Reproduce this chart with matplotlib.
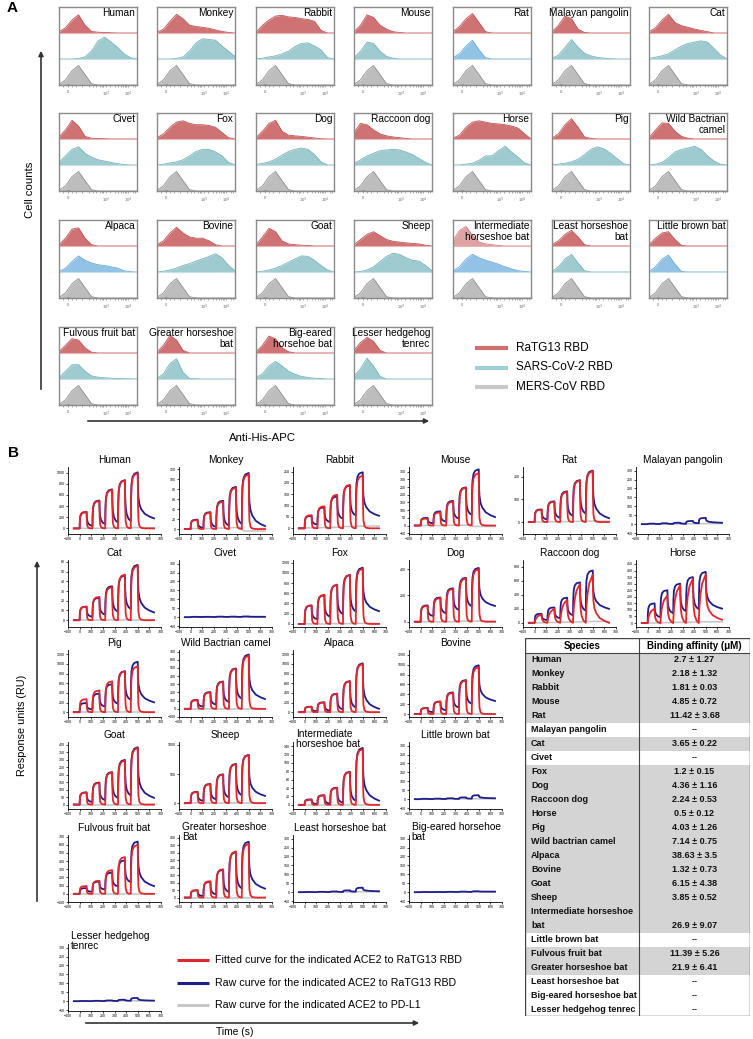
import numpy as np
import matplotlib.pyplot as plt
from matplotlib.patches import Rectangle

plt.rcParams['font.family'] = ['Liberation Sans', 'DejaVu Sans']

W, H = 753, 1039

def box(x, y, w, h):
    # pixel box (top-left origin) -> figure fraction
    return [x / W, 1 - (y + h) / H, w / W, h / H]

# ---------------- panel A: flow cytometry ----------------
flow_titles = ['Human', 'Monkey', 'Rabbit', 'Mouse', 'Rat', 'Malayan pangolin', 'Cat',
               'Civet', 'Fox', 'Dog', 'Raccoon dog', 'Horse', 'Pig', 'Wild Bactrian\ncamel',
               'Alpaca', 'Bovine', 'Goat', 'Sheep', 'Intermediate\nhorseshoe bat',
               'Least horseshoe\nbat', 'Little brown bat',
               'Fulvous fruit bat', 'Greater horseshoe\nbat', 'Big-eared\nhorsehoe bat',
               'Lesser hedgehog\ntenrec']

# relative counts per bin (13 bins across the APC axis)
ratg13_counts = [
    [0.05, 0.2, 0.5, 0.7, 0.3, 0.06, 0.03, 0.02, 0.01, 0, 0, 0, 0],
    [0.03, 0.15, 0.45, 0.72, 0.55, 0.3, 0.25, 0.22, 0.18, 0.12, 0.06, 0.02, 0],
    [0.03, 0.3, 0.5, 0.65, 0.68, 0.62, 0.6, 0.55, 0.52, 0.45, 0.1, 0, 0],
    [0.05, 0.3, 0.7, 0.6, 0.3, 0.15, 0.05, 0.02, 0, 0, 0, 0, 0],
    [0.05, 0.25, 0.55, 0.75, 0.4, 0.05, 0, 0, 0, 0, 0, 0, 0],
    [0.05, 0.3, 0.65, 0.55, 0.15, 0.02, 0, 0, 0, 0, 0, 0, 0],
    [0.05, 0.2, 0.5, 0.72, 0.4, 0.28, 0.22, 0.15, 0.1, 0.05, 0, 0, 0],
    [0.08, 0.35, 0.72, 0.5, 0.1, 0.03, 0.02, 0.01, 0, 0, 0, 0, 0],
    [0.05, 0.2, 0.45, 0.65, 0.7, 0.6, 0.55, 0.55, 0.52, 0.45, 0.25, 0.05, 0],
    [0.05, 0.3, 0.6, 0.72, 0.3, 0.15, 0.12, 0.1, 0.07, 0.04, 0.01, 0, 0],
    [0.25, 0.6, 0.55, 0.35, 0.2, 0.12, 0.08, 0.05, 0.02, 0, 0, 0, 0],
    [0.03, 0.15, 0.45, 0.65, 0.7, 0.65, 0.6, 0.58, 0.55, 0.5, 0.42, 0.2, 0],
    [0.03, 0.2, 0.55, 0.78, 0.45, 0.08, 0.02, 0, 0, 0, 0, 0, 0],
    [0.05, 0.35, 0.62, 0.6, 0.3, 0.1, 0.03, 0, 0, 0, 0, 0, 0],
    [0.05, 0.3, 0.65, 0.7, 0.3, 0.05, 0, 0, 0, 0, 0, 0, 0],
    [0.05, 0.2, 0.5, 0.72, 0.5, 0.35, 0.3, 0.3, 0.2, 0.05, 0, 0, 0],
    [0.05, 0.35, 0.68, 0.55, 0.2, 0.08, 0.05, 0.03, 0.02, 0, 0, 0, 0],
    [0.05, 0.25, 0.45, 0.55, 0.4, 0.25, 0.18, 0.15, 0.12, 0.1, 0.08, 0.03, 0],
    [0.2, 0.6, 0.75, 0.4, 0.15, 0.08, 0.05, 0.02, 0, 0, 0, 0, 0],
    [0.05, 0.2, 0.45, 0.6, 0.35, 0.05, 0, 0, 0, 0, 0, 0, 0],
    [0.05, 0.3, 0.5, 0.55, 0.25, 0.02, 0, 0, 0, 0, 0, 0, 0],
    [0.05, 0.3, 0.55, 0.5, 0.2, 0.03, 0, 0, 0, 0, 0, 0, 0],
    [0.03, 0.3, 0.68, 0.5, 0.1, 0, 0, 0, 0, 0, 0, 0, 0],
    [0.05, 0.3, 0.65, 0.55, 0.2, 0.05, 0, 0, 0, 0, 0, 0, 0],
    [0.1, 0.4, 0.6, 0.45, 0.1, 0, 0, 0, 0, 0, 0, 0, 0],
]
sars2_counts = [
    [0, 0, 0, 0.02, 0.08, 0.3, 0.7, 0.84, 0.65, 0.45, 0.2, 0.05, 0],
    [0, 0, 0, 0.02, 0.08, 0.3, 0.62, 0.78, 0.75, 0.72, 0.5, 0.3, 0.1],
    [0, 0.03, 0.08, 0.12, 0.2, 0.3, 0.48, 0.6, 0.62, 0.5, 0.35, 0.05, 0],
    [0.05, 0.3, 0.65, 0.6, 0.3, 0.1, 0.03, 0, 0, 0, 0, 0, 0],
    [0.05, 0.2, 0.5, 0.72, 0.35, 0.05, 0, 0, 0, 0, 0, 0, 0],
    [0.03, 0.15, 0.45, 0.75, 0.45, 0.22, 0.12, 0.06, 0.03, 0.01, 0, 0, 0],
    [0.02, 0.07, 0.12, 0.2, 0.35, 0.5, 0.6, 0.65, 0.7, 0.65, 0.4, 0.15, 0],
    [0.1, 0.35, 0.6, 0.7, 0.45, 0.3, 0.2, 0.15, 0.1, 0.05, 0.02, 0, 0],
    [0, 0.03, 0.08, 0.12, 0.2, 0.35, 0.52, 0.6, 0.6, 0.5, 0.35, 0.1, 0],
    [0.02, 0.06, 0.12, 0.22, 0.38, 0.52, 0.6, 0.65, 0.6, 0.4, 0.12, 0, 0],
    [0.05, 0.2, 0.35, 0.45, 0.55, 0.58, 0.6, 0.58, 0.5, 0.4, 0.25, 0.1, 0],
    [0, 0, 0.03, 0.07, 0.18, 0.35, 0.35, 0.55, 0.72, 0.5, 0.3, 0.08, 0],
    [0, 0.03, 0.07, 0.12, 0.22, 0.4, 0.6, 0.7, 0.62, 0.45, 0.25, 0.05, 0],
    [0, 0.03, 0.1, 0.28, 0.5, 0.6, 0.65, 0.72, 0.6, 0.35, 0.15, 0.03, 0],
    [0.02, 0.15, 0.4, 0.62, 0.45, 0.35, 0.28, 0.25, 0.2, 0.15, 0.05, 0.01, 0],
    [0, 0.03, 0.08, 0.15, 0.25, 0.32, 0.42, 0.5, 0.6, 0.7, 0.55, 0.25, 0.05],
    [0, 0.03, 0.08, 0.15, 0.25, 0.38, 0.5, 0.62, 0.6, 0.45, 0.25, 0.08, 0],
    [0, 0.02, 0.08, 0.2, 0.4, 0.6, 0.72, 0.68, 0.55, 0.45, 0.42, 0.25, 0.05],
    [0.05, 0.2, 0.5, 0.68, 0.55, 0.45, 0.38, 0.3, 0.2, 0.12, 0.05, 0.02, 0],
    [0.03, 0.2, 0.5, 0.68, 0.35, 0.05, 0, 0, 0, 0, 0, 0, 0],
    [0.02, 0.2, 0.5, 0.65, 0.3, 0.02, 0, 0, 0, 0, 0, 0, 0],
    [0.05, 0.3, 0.55, 0.55, 0.3, 0.12, 0.07, 0.05, 0.03, 0.02, 0.01, 0.01, 0],
    [0.02, 0.2, 0.6, 0.78, 0.25, 0.02, 0.01, 0, 0, 0, 0, 0, 0],
    [0.05, 0.2, 0.5, 0.68, 0.5, 0.3, 0.18, 0.1, 0.06, 0.03, 0.02, 0, 0],
    [0.1, 0.4, 0.8, 0.5, 0.1, 0, 0, 0, 0, 0, 0, 0, 0],
]
mers_counts = [0.02, 0.2, 0.55, 0.75, 0.4, 0.05, 0, 0, 0, 0, 0, 0, 0]
blue_sars2 = ['Rat', 'Alpaca', 'Intermediate\nhorseshoe bat', 'Little brown bat']

flow_col_x = [59, 157, 256, 354, 453, 552, 649]
flow_row_y = [7, 113, 220, 327]
flow_bins = np.linspace(0, 1, 13)

fig = plt.figure(figsize=(W / 100, H / 100), dpi=100)

over = fig.add_axes([0, 0, 1, 1])
over.set_xlim(0, W)
over.set_ylim(H, 0)
over.axis('off')

for i, title in enumerate(flow_titles):
    ax = fig.add_axes(box(flow_col_x[i % 7], flow_row_y[i // 7], 78, 78))
    ax.set_xlim(0, 1)
    ax.set_ylim(0, 3)
    red_fc, red_ec = '#cf7274', '#c05255'
    if title.startswith('Intermediate'):
        red_fc, red_ec = '#dfa3a4', '#cf7a7c'
    if title in blue_sars2:
        sc_fc, sc_ec = '#92c2e6', '#6aa9d8'
    else:
        sc_fc, sc_ec = '#9ecbd0', '#74b3ba'
    r = 2 + np.array(ratg13_counts[i])
    s = 1 + np.array(sars2_counts[i])
    m = np.array(mers_counts)
    ax.fill_between(flow_bins, 2, r, color=red_fc, lw=0)
    ax.plot(flow_bins, r, color=red_ec, lw=0.6)
    ax.fill_between(flow_bins, 1, s, color=sc_fc, lw=0)
    ax.plot(flow_bins, s, color=sc_ec, lw=0.6)
    ax.fill_between(flow_bins, 0, m, color='#bdbdbd', lw=0)
    ax.plot(flow_bins, m, color='#8f8f8f', lw=0.6)
    ax.axhline(2, color='#e9b5b6', lw=0.8)
    ax.axhline(1, color='#c3e1e4', lw=0.8)
    ax.plot([0.1, 0.13], [0.015, 0.015], color='#222', lw=1.0)
    for sp in ax.spines.values():
        sp.set_color('#8a8a8a')
        sp.set_linewidth(1.0)
    ax.set_yticks([])
    ax.set_xticks([0.12, 0.6, 0.89])
    ax.set_xticklabels(['0', '10$^3$', '10$^4$'], fontsize=3, color='#666')
    ax.set_xticks([0.05, 0.17, 0.22, 0.3, 0.38, 0.44, 0.48, 0.52, 0.55, 0.57,
                   0.66, 0.72, 0.76, 0.79, 0.82, 0.84, 0.86, 0.95, 0.98], minor=True)
    ax.tick_params(axis='x', which='both', length=1.5, width=0.5, color='#888', pad=2)
    ax.text(0.98, 0.985, title, transform=ax.transAxes, ha='right', va='top',
            fontsize=7.3, multialignment='right', linespacing=1.05)

# panel A decorations
over.text(7, 8, 'A', fontsize=11, fontweight='bold', va='center', ha='left')
over.annotate('', xy=(41, 48), xytext=(41, 392),
              arrowprops=dict(arrowstyle='-|>', lw=1.2, color='#333', mutation_scale=7))
over.text(30, 190, 'Cell counts', rotation=90, fontsize=8.2, ha='center', va='center')
over.annotate('', xy=(432, 421), xytext=(85, 421),
              arrowprops=dict(arrowstyle='-|>', lw=1.2, color='#333', mutation_scale=7))
over.text(262, 438, 'Anti-His-APC', fontsize=8.2, ha='center', va='center')

flow_legend = ['RaTG13 RBD', 'SARS-CoV-2 RBD', 'MERS-CoV RBD']
flow_legend_colors = ['#cf6e70', '#9dcfd4', '#c8c8c8']
for k, (lab, c) in enumerate(zip(flow_legend, flow_legend_colors)):
    yy = 348 + k * 19.5
    over.plot([475, 508], [yy, yy], color=c, lw=3, solid_capstyle='butt')
    over.text(516, yy, lab, fontsize=8.5, va='center', ha='left')

# ---------------- panel B: SPR sensorgrams ----------------
spr_titles = ['Human', 'Monkey', 'Rabbit', 'Mouse', 'Rat', 'Malayan pangolin',
              'Cat', 'Civet', 'Fox', 'Dog', 'Raccoon dog', 'Horse',
              'Pig', 'Wild Bactrian camel', 'Alpaca', 'Bovine',
              'Goat', 'Sheep', 'Intermediate\nhorseshoe bat', 'Little brown bat',
              'Fulvous fruit bat', 'Greater horseshoe\nBat', 'Least horseshoe bat',
              'Big-eared horsehoe\nbat', 'Lesser hedgehog\ntenrec']
spr_row_sizes = [6, 6, 4, 4, 4, 1]

# plateau response (RU) at the end of each of the 5 injections
spr_fit = [
    [300, 490, 690, 860, 990], [18, 33, 55, 83, 110], [58, 97, 148, 192, 232],
    [45, 85, 155, 245, 340], [54, 90, 133, 184, 225], None,
    [14, 24, 34, 47, 56], None, [365, 570, 770, 960, 1080],
    [120, 180, 250, 330, 400], [120, 200, 330, 560, 690], [110, 210, 290, 340, 370],
    [270, 450, 640, 850, 950], [105, 200, 330, 490, 650], [110, 200, 380, 640, 1000],
    [120, 250, 430, 680, 950],
    [80, 145, 215, 295, 380], [190, 325, 490, 670, 825], [12, 22, 40, 78, 133], None,
    [95, 160, 290, 450, 600], [50, 110, 190, 310, 360], None, None,
    None,
]
spr_raw = [
    [290, 500, 700, 865, 1005], [19, 34, 57, 85, 113], [55, 92, 140, 188, 247],
    [50, 92, 160, 248, 365], [56, 92, 136, 186, 228], [3, 5, 8, 18, 35],
    [14, 23, 35, 46, 57], [2, 2, 3, 3, 4], [360, 560, 760, 960, 1100],
    [125, 185, 255, 335, 410], [130, 220, 360, 580, 750], [150, 250, 300, 350, 390],
    [190, 385, 580, 850, 1045], [110, 205, 335, 495, 665], [115, 205, 385, 645, 1015],
    [125, 255, 440, 690, 990],
    [82, 148, 218, 300, 385], [195, 330, 495, 675, 830], [13, 23, 41, 79, 136], [2, 3, 5, 10, 22],
    [70, 150, 260, 410, 640], [48, 105, 185, 305, 375], [1, 2, 4, 10, 25], [1, 1, 2, 3, 5],
    [1, 2, 4, 8, 18],
]
# fraction of the plateau left on the raw curve after each short dissociation
spr_resid = [0.15, 0.12, 0.3, 0.28, 0.2, 0.3,
             0.25, 0.5, 0.25, 0.35, 0.3, 0.3,
             0.3, 0.25, 0.15, 0.3,
             0.2, 0.2, 0.12, 0.3,
             0.35, 0.2, 0.3, 0.5,
             0.3]
# raw response left at the end of the final dissociation
spr_tail = [180, 6, 55, 55, 17, 8,
            8, 2, 250, 120, 200, 110,
            205, 120, 70, 265,
            45, 125, 10, 5,
            95, 60, 5, 3,
            3]
spr_fit_tail = [0, 0, 0, 0, 0, 0, 0, 0, 0, 0, 0, 25, 0, 0, 0, 0, 0, 0, 0, 0, 0, 0, 0, 0, 0]
spr_slow_fit = ['Raccoon dog', 'Horse']
spr_pdl1 = [
    [0, 3, 6, 10, 15], [1, 1, 2, 3, -4], [2, 3, 5, 8, 10], [0, 0, 2, 2, -6], [0, 1, 2, 3, 4], [0, 1, 1, 2, 3],
    [0, 0, 0, 0, 0], [1, 1, 2, 2, 2], [0, 0, 5, 5, 10], [0, 0, 0, 5, 5], [0, 5, 10, 15, 20], [0, 3, 5, 8, 10],
    [0, 0, 0, 0, 0], [0, 0, 0, 0, 0], [0, 0, 0, 0, 0], [0, 0, 0, 0, 0],
    [0, 0, 0, 0, 0], [0, 0, 0, 0, 0], [0, 0, 0, 0, 0], [0, 1, 1, 2, 2],
    [0, 0, 0, 0, 0], [0, 0, 0, 0, 0], [0, 1, 1, 1, 2], [0, 1, 1, 1, 1],
    [0, 1, 1, 2, 2],
]
spr_ylim = [(-100, 1100), (-10, 125), (-25, 270), (-55, 380), (-53, 244), (-55, 320),
            (-7, 62), (-55, 320), (-60, 1250), (-40, 470), (-60, 900), (-30, 480),
            (-100, 1290), (-100, 720), (-100, 1290), (-60, 1300),
            (-30, 420), (-100, 1050), (-10, 150), (-55, 320),
            (-100, 720), (-30, 420), (-55, 320), (-55, 320),
            (-55, 320)]
spr_yticks = [(0, 1000, 200), (0, 120, 20), (0, 250, 50), (-50, 350, 50), (0, 200, 100), (-50, 300, 50),
              (0, 60, 10), (-50, 300, 50), (0, 1200, 200), (0, 400, 200), (0, 800, 200), (0, 450, 50),
              (0, 1200, 200), (-100, 700, 100), (0, 1200, 200), (0, 1200, 200),
              (0, 400, 50), (0, 1000, 500), (0, 140, 20), (-50, 300, 50),
              (-100, 700, 100), (0, 400, 50), (-50, 300, 50), (-50, 300, 50),
              (-50, 300, 50)]

# injection schedule and normalised kinetic shapes
CYCLE_START = [0, 110, 220, 330, 440]
ASSOC_T = [0, 2, 6, 15, 30, 60]
ASSOC_FAST = [0, 0.45, 0.75, 0.9, 0.97, 1.0]
ASSOC_SLOW = [0, 0.15, 0.35, 0.6, 0.82, 1.0]
DISS_T = [0, 2, 6, 15, 30, 50]
DISS_FIT = [1, 0.45, 0.15, 0.04, 0.01, 0]
DISS_RAW = [1, 0.6, 0.35, 0.17, 0.06, 0]
TAIL_T = [0, 2, 6, 15, 30, 60, 100, 140]
TAIL_FIT = [1, 0.45, 0.15, 0.04, 0.01, 0, 0, 0]
TAIL_RAW = [1, 0.65, 0.45, 0.3, 0.2, 0.1, 0.04, 0]


def trace(peaks, resid, tail, assoc, diss, tail_shape):
    t, y = [-50, 0], [0, 0]
    start = 0
    for i, (t0, p) in enumerate(zip(CYCLE_START, peaks)):
        t += [t0 + d for d in ASSOC_T[1:]]
        y += [start + (p - start) * f for f in assoc[1:]]
        last = i == len(peaks) - 1
        dts, shape = (TAIL_T, tail_shape) if last else (DISS_T, diss)
        end = tail if last else resid * p
        t += [t0 + 60 + d for d in dts[1:]]
        y += [end + (p - end) * f for f in shape[1:]]
        start = end
    return t, y


spr_col_x = [68, 179, 293, 409, 523, 636]
spr_row_y = [467, 560, 650, 742, 835, 944]

k = 0
for row, n in enumerate(spr_row_sizes):
    for col in range(n):
        ax = fig.add_axes(box(spr_col_x[col], spr_row_y[row], 93, 67))
        gt, gy = trace(spr_pdl1[k], 1.0, spr_pdl1[k][-1], ASSOC_FAST, DISS_FIT, TAIL_FIT)
        ax.plot(gt, gy, color='#c4c4c4', lw=1.1)
        bt, by = trace(spr_raw[k], spr_resid[k], spr_tail[k], ASSOC_FAST, DISS_RAW, TAIL_RAW)
        ax.plot(bt, by, color='#1d1d8c', lw=1.3)
        if spr_fit[k] is not None:
            slow = spr_titles[k] in spr_slow_fit
            rt, ry = trace(spr_fit[k], 0, spr_fit_tail[k],
                           ASSOC_SLOW if slow else ASSOC_FAST,
                           DISS_RAW if slow else DISS_FIT,
                           TAIL_RAW if slow else TAIL_FIT)
            ax.plot(rt, ry, color='#e3262b', lw=1.3)
        ax.set_xlim(-100, 700)
        ax.set_ylim(*spr_ylim[k])
        a, b, s = spr_yticks[k]
        ax.set_yticks(np.arange(a, b + 1, s))
        ax.set_xticks(np.arange(-100, 701, 100))
        ax.tick_params(length=1.5, width=0.5, labelsize=2.6, pad=1)
        for side in ['top', 'right']:
            ax.spines[side].set_visible(False)
        for side in ['left', 'bottom']:
            ax.spines[side].set_linewidth(0.6)
        title = spr_titles[k]
        if '\n' in title:
            ax.text(0.03, 1.2, title, transform=ax.transAxes, ha='left', va='top',
                    fontsize=7.3, linespacing=1.1)
        else:
            ax.text(0.5, 1.03, title, transform=ax.transAxes, ha='center', va='bottom',
                    fontsize=7.3)
        k += 1

over.text(8, 453, 'B', fontsize=11, fontweight='bold', va='center', ha='left')
over.annotate('', xy=(37, 558), xytext=(37, 904),
              arrowprops=dict(arrowstyle='-|>', lw=1.2, color='#333', mutation_scale=7))
over.text(22, 725, 'Response units (RU)', rotation=90, fontsize=7.8, ha='center', va='center')
over.annotate('', xy=(422, 1023), xytext=(83, 1023),
              arrowprops=dict(arrowstyle='-|>', lw=1.2, color='#333', mutation_scale=7))
over.text(235, 1032, 'Time (s)', fontsize=7.4, ha='center', va='center')

spr_legend = ['Fitted curve for the indicated ACE2 to RaTG13 RBD',
              'Raw curve for the indicated ACE2 to RaTG13 RBD',
              'Raw curve for the indicated ACE2 to PD-L1']
spr_legend_colors = ['#e3262b', '#1d1d8c', '#c8c8c8']
for j, (lab, c) in enumerate(zip(spr_legend, spr_legend_colors)):
    yy = 960 + j * 22.5
    over.plot([177, 209], [yy, yy], color=c, lw=2.2, solid_capstyle='butt')
    over.text(215, yy, lab, fontsize=7.7, va='center', ha='left')

# ---------------- binding affinity table ----------------
table_species = ['Human', 'Monkey', 'Rabbit', 'Mouse', 'Rat', 'Malayan pangolin', 'Cat', 'Civet',
                 'Fox', 'Dog', 'Raccoon dog', 'Horse', 'Pig', 'Wild bactrian camel', 'Alpaca',
                 'Bovine', 'Goat', 'Sheep', 'Intermediate horseshoe\nbat', 'Little brown bat',
                 'Fulvous fruit bat', 'Greater horseshoe bat', 'Least horseshoe bat',
                 'Big-eared horseshoe bat', 'Lesser hedgehog tenrec']
table_affinity = ['2.7 ± 1.27', '2.18 ± 1.32', '1.81 ± 0.03', '4.85 ± 0.72', '11.42 ± 3.68', '--',
                  '3.65 ± 0.22', '--', '1.2 ± 0.15', '4.36 ± 1.16', '2.24 ± 0.53', '0.5 ± 0.12',
                  '4.03 ± 1.26', '7.14 ± 0.75', '38.63 ± 3.5', '1.32 ± 0.73', '6.15 ± 4.38',
                  '3.85 ± 0.52', '26.9 ± 9.07', '--', '11.39 ± 5.26', '21.9 ± 6.41', '--', '--', '--']

tw, th, hdr, rh, split = 225, 378, 15, 14, 114
tab = fig.add_axes(box(525, 638, tw, th))
tab.set_xlim(0, tw)
tab.set_ylim(th, 0)
tab.axis('off')
y = hdr
for name, val in zip(table_species, table_affinity):
    lines = name.split('\n')
    h = rh * len(lines)
    if val != '--':
        tab.add_patch(Rectangle((0, y), tw, h, color='#d4d4d4', lw=0))
    for j, ln in enumerate(lines):
        tab.text(6, y + rh / 2 + j * rh, ln, fontsize=6.5, fontweight='bold',
                 ha='left', va='center', color='#111')
    tab.text((split + tw) / 2, y + h - rh / 2, val, fontsize=6.5, fontweight='bold',
             ha='center', va='center', color='#111')
    y += h
tab.text(split / 2, hdr / 2 + 0.5, 'Species', fontsize=7, fontweight='bold', ha='center', va='center')
tab.text((split + tw) / 2, hdr / 2 + 0.5, 'Binding affinity (μM)', fontsize=7, fontweight='bold',
         ha='center', va='center')
tab.add_patch(Rectangle((0, 0), tw, th, fill=False, ec='#444', lw=1))
tab.plot([0, tw], [hdr, hdr], color='#444', lw=0.8)
tab.plot([split, split], [0, th], color='#444', lw=0.8)

fig.savefig('out.png', dpi=100)
